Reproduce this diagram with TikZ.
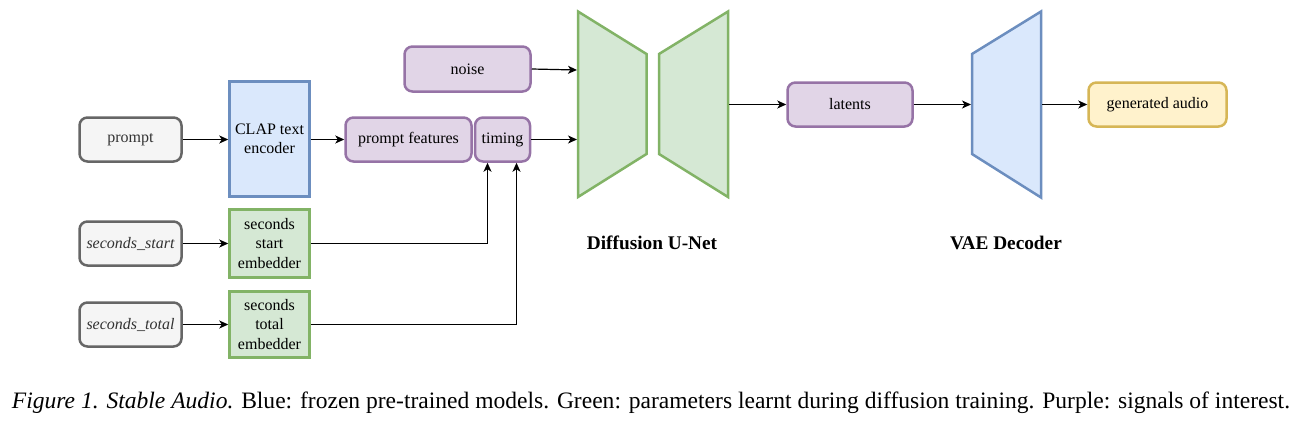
\documentclass[tikz,border=0pt]{standalone}
\usepackage{fontspec}
\setmainfont{Liberation Serif}
\usetikzlibrary{arrows.meta}
\definecolor{grayF}{HTML}{F5F5F5}\definecolor{grayS}{HTML}{666666}
\definecolor{blueF}{HTML}{DAE8FC}\definecolor{blueS}{HTML}{6C8EBF}
\definecolor{greenF}{HTML}{D5E8D4}\definecolor{greenS}{HTML}{82B366}
\definecolor{purpF}{HTML}{E1D5E7}\definecolor{purpS}{HTML}{9673A6}
\definecolor{yelF}{HTML}{FFF2CC}\definecolor{yelS}{HTML}{D6B656}
\definecolor{txtgray}{HTML}{333333}
\begin{document}
\begin{tikzpicture}[x=1pt,y=-1pt,
  base/.style={line width=2.5pt,inner sep=0pt,align=center,font=\fontsize{16}{19.5}\selectfont},
  graybox/.style={base,draw=grayS,fill=grayF,rounded corners=8pt,text=txtgray},
  bluebox/.style={base,draw=blueS,fill=blueF},
  greenbox/.style={base,draw=greenS,fill=greenF},
  purpbox/.style={base,draw=purpS,fill=purpF,rounded corners=8pt},
  yelbox/.style={base,draw=yelS,fill=yelF,rounded corners=8pt},
  conn/.style={line width=1.2pt,-{Stealth[length=9pt,width=8pt,inset=2.5pt]}},
  lbl/.style={font=\fontsize{19.3}{22}\selectfont\bfseries,inner sep=0pt}]
\useasboundingbox (0,0) rectangle (1305,431);
% left column
\node[graybox,minimum width=102pt,minimum height=44pt] (prompt) at (130.5,139.5) {prompt};
\node[graybox,minimum width=102pt,minimum height=44pt] (sstart) at (130.5,243.5) {\itshape seconds\_start};
\node[graybox,minimum width=102pt,minimum height=44pt] (stotal) at (130.5,324.5) {\itshape seconds\_total};
% encoders
\node[bluebox,minimum width=80pt,minimum height=115pt] (clap) at (269.5,139) {CLAP text\\encoder};
\node[greenbox,minimum width=80pt,minimum height=68pt] (startemb) at (269.5,243.5) {seconds\\start\\embedder};
\node[greenbox,minimum width=80pt,minimum height=66pt] (totalemb) at (269.5,324.5) {seconds\\total\\embedder};
% signals
\node[purpbox,minimum width=126pt,minimum height=44pt] (pf) at (408.5,139.5) {prompt features};
\node[purpbox,minimum width=55pt,minimum height=44pt] (timing) at (502.5,139.5) {timing};
\node[purpbox,minimum width=126pt,minimum height=45pt] (noise) at (467.5,69) {noise};
\node[purpbox,minimum width=125pt,minimum height=44pt] (latents) at (850,104.5) {latents};
\node[yelbox,minimum width=138pt,minimum height=44pt] (audio) at (1157.5,104.5) {generated audio};
% U-Net
\draw[line width=2.5pt,draw=greenS,fill=greenF,line join=miter]
  (578,11.5) -- (646.5,54) -- (646.5,154) -- (578,197) -- cycle;
\draw[line width=2.5pt,draw=greenS,fill=greenF,line join=miter]
  (659,54) -- (728,11.5) -- (728,197) -- (659,154) -- cycle;
\coordinate (unetin1) at (577,70);
\coordinate (unetin2) at (577,139.5);
\coordinate (unetout) at (729,104.5);
% VAE
\draw[line width=2.5pt,draw=blueS,fill=blueF,line join=miter]
  (972,54) -- (1041,11.5) -- (1041,197.5) -- (972,154) -- cycle;
\coordinate (vaein) at (971,104.5);
\coordinate (vaeout) at (1042,104.5);
% labels
\node[lbl] (unetlbl) at (652,243) {Diffusion U-Net};
\node[lbl] (vaelbl) at (1006,243) {VAE Decoder};
% connectors
\draw[conn] (prompt.east) -- (clap.west |- prompt.east);
\draw[conn] (clap.east |- pf.west) -- (pf.west);
\draw[conn] (sstart.east) -- (startemb.west);
\draw[conn] (stotal.east) -- (totalemb.west);
\draw[conn] (startemb.east) -| ([xshift=-15pt]timing.south);
\draw[conn] (totalemb.east) -| ([xshift=14pt]timing.south);
\draw[conn] (noise.east) -- (unetin1);
\draw[conn] (timing.east) -- (unetin2);
\draw[conn] (unetout) -- (latents.west);
\draw[conn] (latents.east) -- (vaein);
\draw[conn] (vaeout) -- (audio.west);
% caption
\node[inner sep=0pt] (caption) at (651,403) {\resizebox{1278pt}{!}{\fontsize{19}{22}\selectfont\textit{Figure 1. Stable Audio.} Blue: frozen pre-trained models. Green: parameters learnt during diffusion training. Purple: signals of interest.}};
\end{tikzpicture}
\end{document}
